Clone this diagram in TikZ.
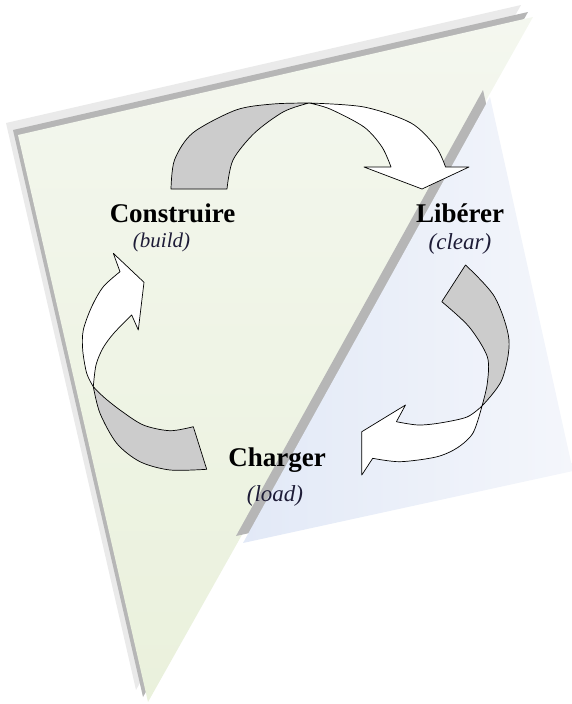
\documentclass[tikz,border=0pt]{standalone}
\usepackage{fontspec}
\setmainfont{Liberation Serif}
\definecolor{paneGreenA}{RGB}{244,247,239}
\definecolor{paneGreenB}{RGB}{234,241,220}
\definecolor{paneBlueA}{RGB}{226,233,247}
\definecolor{paneBlueB}{RGB}{244,246,251}
\definecolor{edgeDark}{RGB}{182,182,182}
\definecolor{edgeLight}{RGB}{234,234,234}
\definecolor{ribbonBack}{RGB}{204,204,204}
\definecolor{labelInk}{RGB}{30,28,55}

\begin{document}
\begin{tikzpicture}[x=1pt,y=-1pt,
  ribbon/.style={draw=black, line width=0.7pt, line join=round},
  backface/.style={ribbon, fill=ribbonBack},
  frontface/.style={ribbon, fill=white},
  stage/.style={font=\fontsize{27}{30}\selectfont\bfseries, anchor=base, inner sep=0pt},
  gloss/.style={text=labelInk, anchor=base, inner sep=0pt}]
\useasboundingbox (0,0) rectangle (571,704);

% green sheet, with a soft and a hard shadow along its top and left edges
\coordinate (gA) at (18,135);
\coordinate (gB) at (533,17);
\coordinate (gC) at (148,702);
\fill[edgeLight] ([shift={(-12,-12)}]gA) -- ([shift={(-12,-12)}]gB) -- ([shift={(-12,-12)}]gC) -- cycle;
\fill[edgeDark] ([shift={(-5,-5)}]gA) -- ([shift={(-5,-5)}]gB) -- ([shift={(-5,-5)}]gC) -- cycle;
\shade[top color=paneGreenA, bottom color=paneGreenB] (gA) -- (gB) -- (gC) -- cycle;

% blue sheet lying along the long edge of the green one
\coordinate (bA) at (490,97);
\coordinate (bB) at (573,471);
\coordinate (bC) at (243,543);
\fill[edgeDark] ([shift={(-7,-7)}]bA) -- ([shift={(-7,-7)}]bB) -- ([shift={(-7,-7)}]bC) -- cycle;
\shade[left color=paneBlueA, right color=paneBlueB] (bA) -- (bB) -- (bC) -- cycle;

% top ribbon: Construire -> Liberer
\draw[backface] plot[smooth] coordinates {(171,189) (174.5,160) (192.7,133) (236,110) (273,104) (309,103)}
  -- plot[smooth] coordinates {(309,103) (283.6,111.7) (254.5,133) (233,160) (227,189)} -- cycle;
\draw[frontface] plot[smooth] coordinates {(309,103) (364,107) (411,123) (436,147) (445.5,167)}
  -- (469,167) -- (422,189) -- (364,167) -- (391,167)
  -- plot[smooth] coordinates {(391,167) (382,147) (364,127) (330,109) (309,103)} -- cycle;

% right ribbon: Liberer -> Charger
\draw[backface] plot[smooth] coordinates {(465.5,265) (494.5,296.7) (509,340) (501.8,380) (482,406)}
  -- plot[smooth] coordinates {(482,406) (487.3,383.3) (487.3,356.7) (469,326.7) (441.8,301.7)} -- cycle;
\draw[frontface] plot[smooth] coordinates {(482,406) (473,433) (457,448) (436,457) (400,461.7) (372.7,458.3)}
  -- (361.8,475) -- (361.8,431.7) -- (405.5,405) -- (396.4,421.7)
  -- plot[smooth] coordinates {(396.4,421.7) (418,425) (440,423) (467,417) (482,406)} -- cycle;

% left ribbon: Charger -> Construire
\draw[backface] plot[smooth] coordinates {(93.3,386.7) (100,413.3) (116.7,443.3) (140,461.7) (170,470) (206.7,469.3)}
  -- (193.3,426.7)
  -- plot[smooth] coordinates {(193.3,426.7) (170,430.7) (143.3,425) (120,410) (103.3,396.7) (93.3,386.7)} -- cycle;
\draw[frontface] plot[smooth] coordinates {(93.3,386.7) (86.7,373.3) (82.7,350) (83.3,330) (91.7,306.7) (103.3,286.7) (120,271.7)}
  -- (113.3,253.3) -- (144,282.3) -- (138.3,330) -- (131.7,315)
  -- plot[smooth] coordinates {(131.7,315) (114,333) (103,348) (96,365) (93.3,386.7)} -- cycle;

% stage labels
\node[stage] (build) at (172.5,222) {Construire};
\node[gloss, font=\fontsize{21}{24}\selectfont\itshape] (buildEn) at (161.5,247.5) {(build)};
\node[stage] (clear) at (460,222) {Libérer};
\node[gloss, font=\fontsize{23}{26}\selectfont\itshape] (clearEn) at (460,249) {(clear)};
\node[stage] (load) at (277,466.7) {Charger};
\node[gloss, font=\fontsize{23}{26}\selectfont\itshape] (loadEn) at (275,501) {(load)};
\end{tikzpicture}
\end{document}
